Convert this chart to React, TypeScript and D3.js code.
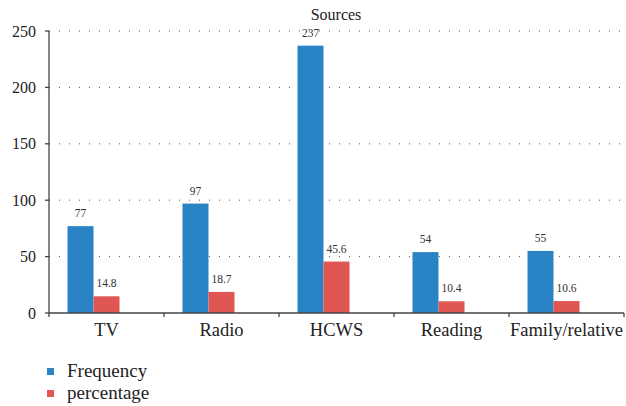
import React from "react";
import * as d3 from "d3";

const categories = ["TV", "Radio", "HCWS", "Reading", "Family/relative"];
const frequency = [77, 97, 237, 54, 55];
const percentage = [14.8, 18.7, 45.6, 10.4, 10.6];
const yTicks = [0, 50, 100, 150, 200, 250];
const seriesNames = ["Frequency", "percentage"];
const colors = ["#2a83c4", "#e05653"];

const W = 626, H = 406;
const left = 49, right = 624, top = 31, bottom = 313;
const FONT = "'Liberation Serif', 'DejaVu Serif', serif";

export default function App() {
  const x = d3.scaleBand<string>().domain(categories).range([left, right]).padding(0);
  const y = d3.scaleLinear().domain([0, 250]).range([bottom, top]);
  const slots = d3.scaleBand<number>().domain([0, 1, 2]).range([0, 78]);
  const series = [frequency, percentage];
  const bw = slots.bandwidth();
  const fmt = (v: number) => (Number.isInteger(v) ? String(v) : v.toFixed(1));
  return (
    <svg width={W} height={H} style={{ position: "absolute", left: 0, top: 0, background: "#fff", fontFamily: FONT }}>
      <text x={336} y={20} textAnchor="middle" fontSize={16} fill="#222">Sources</text>
      {yTicks.filter(t => t > 0).map(t => (
        <line key={"g" + t} x1={left} x2={right} y1={y(t)} y2={y(t)} stroke="#555" strokeWidth={1} strokeDasharray="1 9" />
      ))}
      {categories.map((c, i) => {
        const start = x(c)! + x.bandwidth() / 2 - 39;
        return series.map((s, k) => (
          <g key={c + k}>
            <rect x={start + slots(k)!} y={y(s[i])} width={bw} height={bottom - y(s[i])} fill={colors[k]} />
            <text x={start + slots(k)! + bw / 2} y={y(s[i]) - 9} textAnchor="middle" fontSize={11.5} fill="#333">{fmt(s[i])}</text>
          </g>
        ));
      })}
      <line x1={left} x2={left} y1={top} y2={bottom} stroke="#444" strokeWidth={1.3} />
      {yTicks.map(t => (
        <g key={"t" + t}>
          <line x1={left - 4} x2={left} y1={y(t)} y2={y(t)} stroke="#444" strokeWidth={1.3} />
          <text x={36} y={y(t)} dy="0.35em" textAnchor="end" fontSize={16} fill="#222">{t}</text>
        </g>
      ))}
      <line x1={left} x2={right} y1={bottom} y2={bottom} stroke="#444" strokeWidth={1.3} />
      {categories.map((c, i) => (
        <line key={"xt" + i} x1={x(c)!} x2={x(c)!} y1={bottom} y2={bottom + 4} stroke="#444" strokeWidth={1.3} />
      ))}
      <line x1={right} x2={right} y1={bottom} y2={bottom + 4} stroke="#444" strokeWidth={1.3} />
      {categories.map(c => (
        <text key={"xl" + c} x={x(c)! + x.bandwidth() / 2} y={336} textAnchor="middle" fontSize={18.5} fill="#222">{c}</text>
      ))}
      {seriesNames.map((n, k) => (
        <g key={n}>
          <rect x={47} y={368 + k * 22} width={7} height={7} fill={colors[k]} />
          <text x={67} y={377 + k * 21.5} fontSize={19} fill="#222">{n}</text>
        </g>
      ))}
    </svg>
  );
}
